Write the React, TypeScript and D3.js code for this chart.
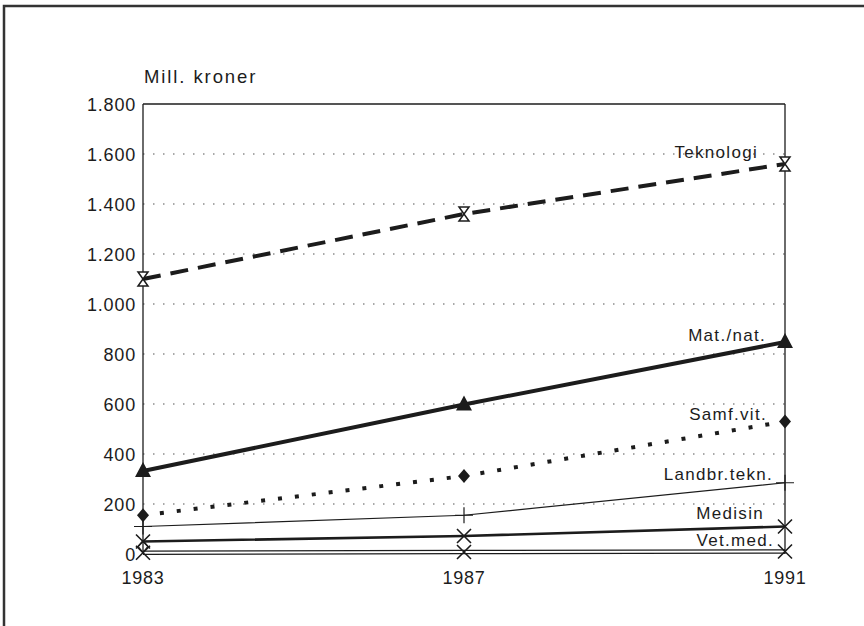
import React from "react";
import * as d3 from "d3";

const years = [1983, 1987, 1991];
const yTicks = [0, 200, 400, 600, 800, 1000, 1200, 1400, 1600, 1800];
const gridTicks = [200, 400, 600, 800, 1000, 1200, 1400, 1600];

const teknologi = [1100, 1360, 1560];
const matNat = [332, 598, 848];
const samfVit = [155, 312, 530];
const landbrTekn = [110, 155, 285];
const medisin = [50, 72, 110];
const vetMed = [5, 8, 10];

const W = 864;
const H = 626;
const INK = "#1c1c1c";

const fmt = (v: number) => (v === 0 ? "0" : d3.format(",")(v).replace(/,/g, "."));

export default function App() {
  const x = d3.scaleLinear().domain([1983, 1991]).range([143, 785]);
  const y = d3.scaleLinear().domain([0, 1800]).range([554, 104]);
  const line = d3
    .line<number>()
    .x((_, i) => x(years[i]))
    .y((d) => y(d));

  const hourglass = (cx: number, cy: number, k: number) => (
    <path
      key={k}
      d={`M${cx - 5},${cy - 7}L${cx + 5},${cy - 7}L${cx - 5},${cy + 7}L${cx + 5},${cy + 7}Z`}
      fill="white"
      stroke={INK}
      strokeWidth={1.5}
    />
  );
  const triangle = (cx: number, cy: number, k: number) => (
    <path key={k} d={`M${cx},${cy - 9}L${cx + 8},${cy + 6}L${cx - 8},${cy + 6}Z`} fill={INK} />
  );
  const diamond = (cx: number, cy: number, k: number) => (
    <path key={k} d={`M${cx},${cy - 7}L${cx + 6},${cy}L${cx},${cy + 7}L${cx - 6},${cy}Z`} fill={INK} />
  );
  const cross = (cx: number, cy: number, k: number) => (
    <path
      key={k}
      d={`M${cx - 7},${cy - 7}L${cx + 7},${cy + 7}M${cx - 7},${cy + 7}L${cx + 7},${cy - 7}`}
      stroke={INK}
      strokeWidth={1.6}
      fill="none"
    />
  );
  const plus = (cx: number, cy: number, k: number) => (
    <path
      key={k}
      d={`M${cx - 9},${cy}L${cx + 9},${cy}M${cx},${cy - 8}L${cx},${cy + 8}`}
      stroke={INK}
      strokeWidth={1.2}
      fill="none"
    />
  );

  const labels = [
    { t: "Teknologi", x: 758, y: 158 },
    { t: "Mat./nat.", x: 766, y: 341 },
    { t: "Samf.vit.", x: 767, y: 420 },
    { t: "Landbr.tekn.", x: 773, y: 480 },
    { t: "Medisin", x: 764, y: 519 },
    { t: "Vet.med.", x: 774, y: 546 },
  ];

  return (
    <svg
      width={W}
      height={H}
      style={{ position: "absolute", left: 0, top: 0, background: "white" }}
      fontFamily="'Liberation Sans', Arial, sans-serif"
    >
      <rect x={4} y={6} width={W + 20} height={H + 20} fill="white" stroke="#333" strokeWidth={2.5} />

      {/* grid */}
      {gridTicks.map((t) => (
        <line
          key={t}
          x1={x(1983)}
          x2={x(1991)}
          y1={y(t)}
          y2={y(t)}
          stroke="#555"
          strokeWidth={1.2}
          strokeDasharray="1.5 8.5"
        />
      ))}

      {/* plot box */}
      <line x1={x(1983)} x2={x(1991)} y1={y(1800)} y2={y(1800)} stroke={INK} strokeWidth={1.3} />
      <line x1={x(1983)} x2={x(1983)} y1={y(1800)} y2={y(0)} stroke={INK} strokeWidth={1.3} />
      <line x1={x(1991)} x2={x(1991)} y1={y(1800)} y2={y(0)} stroke={INK} strokeWidth={1.3} />

      {/* y tick labels */}
      {yTicks.map((t) => (
        <text key={t} x={136} y={y(t) + 6.5} textAnchor="end" fontSize={18} letterSpacing={0.8} fill={INK}>
          {fmt(t)}
        </text>
      ))}
      <text x={144} y={83} fontSize={18.5} letterSpacing={1.9} fill={INK}>
        Mill. kroner
      </text>

      {/* x tick labels */}
      {years.map((yr) => (
        <text key={yr} x={x(yr)} y={584} textAnchor="middle" fontSize={18} letterSpacing={0.8} fill={INK}>
          {yr}
        </text>
      ))}

      {/* Vet.med. (double line) */}
      <path d={line(vetMed) ?? ""} transform="translate(0,-1.6)" stroke={INK} strokeWidth={1.3} fill="none" />
      <path d={line(vetMed) ?? ""} transform="translate(0,1.6)" stroke={INK} strokeWidth={1.3} fill="none" />
      {vetMed.map((v, i) => cross(x(years[i]), y(v), i))}
      <path
        d={`M${x(1983)},${y(30) - 6}L${x(1983) + 5},${y(30)}L${x(1983)},${y(30) + 6}L${x(1983) - 5},${y(30)}Z`}
        fill="none"
        stroke={INK}
        strokeWidth={1.2}
      />

      {/* Medisin */}
      <path d={line(medisin) ?? ""} stroke={INK} strokeWidth={2.6} fill="none" />
      {medisin.map((v, i) => cross(x(years[i]), y(v), i))}

      {/* Landbr.tekn. */}
      <path d={line(landbrTekn) ?? ""} stroke={INK} strokeWidth={1.2} fill="none" />
      {landbrTekn.map((v, i) => plus(x(years[i]), y(v), i))}

      {/* Samf.vit. */}
      <path d={line(samfVit) ?? ""} stroke={INK} strokeWidth={4} strokeDasharray="4 13" fill="none" />
      {samfVit.map((v, i) => diamond(x(years[i]), y(v), i))}

      {/* Mat./nat. */}
      <path d={line(matNat) ?? ""} stroke={INK} strokeWidth={4} fill="none" />
      {matNat.map((v, i) => triangle(x(years[i]), y(v), i))}

      {/* Teknologi */}
      <path d={line(teknologi) ?? ""} stroke={INK} strokeWidth={4} strokeDasharray="18 10" fill="none" />
      {teknologi.map((v, i) => hourglass(x(years[i]), y(v), i))}

      {/* series labels */}
      {labels.map((l) => (
        <text key={l.t} x={l.x} y={l.y} textAnchor="end" fontSize={17} letterSpacing={1.3} fill={INK}>
          {l.t}
        </text>
      ))}
    </svg>
  );
}
